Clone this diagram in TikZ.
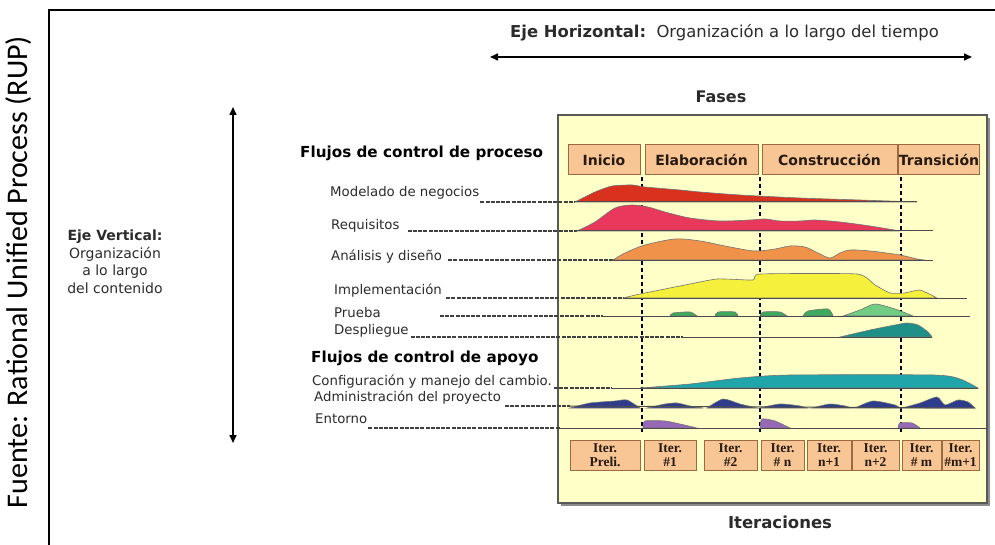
\documentclass[tikz,border=0pt]{standalone}
\usepackage{fontspec}
\setmainfont{DejaVu Sans}
\newfontfamily\srcfont{Carlito}
\newfontfamily\iterfont{Liberation Serif}
\usetikzlibrary{arrows.meta}
\definecolor{panelfill}{HTML}{FFFFC8}
\definecolor{boxfill}{HTML}{F8C594}
\definecolor{boxline}{HTML}{9A6A40}
\definecolor{txt}{HTML}{2B2B2B}
\definecolor{cModel}{HTML}{D8321E}
\definecolor{cReq}{HTML}{E8385C}
\definecolor{cAna}{HTML}{F0924A}
\definecolor{cImp}{HTML}{F5F03C}
\definecolor{cPru}{HTML}{3DAA5E}
\definecolor{cDes}{HTML}{1E9088}
\definecolor{cConf}{HTML}{1FA5AA}
\definecolor{cAdm}{HTML}{2E3C8E}
\definecolor{cEnt}{HTML}{9868B8}
\begin{document}
\begin{tikzpicture}[x=1pt,y=-1pt,
 lbl/.style={anchor=west,inner sep=0pt,text=txt,font=\fontsize{13.3}{15}\selectfont},
 ttl/.style={anchor=west,inner sep=0pt,text=black,font=\bfseries\fontsize{15.2}{17}\selectfont},
 phasebox/.style={draw=boxline,fill=boxfill,line width=1pt,inner sep=0pt,minimum height=30pt,
   font=\bfseries\fontsize{14}{16}\selectfont,text=black!80!brown},
 iterbox/.style={draw=boxline,fill=boxfill,line width=1pt,inner sep=0pt,minimum height=30pt,
   align=center,font=\iterfont\bfseries\fontsize{13.5}{14.5}\selectfont,text=black!80!brown},
 leader/.style={draw=black!75,line width=1.1pt,dash pattern=on 4pt off 1.2pt},
 baseln/.style={draw=black!70,line width=1pt},
 hump/.style={draw=black!55,line width=0.6pt},
 phaseline/.style={draw=black,line width=1.6pt,dash pattern=on 4pt off 3pt},
 axisarrow/.style={draw=black,line width=1.6pt,{Triangle[length=8pt,width=7pt]}-{Triangle[length=8pt,width=7pt]}},
]
\useasboundingbox (0,0) rectangle (995,545);
% outer frame
\draw[line width=1.2pt] (49,545) -- (49,10) -- (995,10);
\node[rotate=90,inner sep=0pt,font=\srcfont\fontsize{30}{32}\selectfont] (src) at (19,272) {Fuente: Rational Unified Process (RUP)};

% horizontal axis
\node[anchor=west,inner sep=0pt,font=\fontsize{16.4}{18}\selectfont,text=txt] (ejeH) at (510,33)
  {\textbf{Eje Horizontal:}\ \ Organización a lo largo del tiempo};
\coordinate (hL) at (490,57);
\coordinate (hR) at (972,57);
\draw[axisarrow] (hL) -- (hR);

% vertical axis
\coordinate (vT) at (233,107);
\coordinate (vB) at (233,443);
\draw[axisarrow] (vT) -- (vB);
\node[align=center,inner sep=0pt,font=\fontsize{14}{17.5}\selectfont,text=txt] (ejeV) at (115,262)
  {\textbf{Eje Vertical:}\\Organización\\a lo largo\\del contenido};

% panel
\fill[black!45] (561,118) rectangle (990,506);
\draw[fill=panelfill,draw=black!65,line width=1.5pt] (558,115) rectangle (987,503);
\node[font=\bfseries\fontsize{16}{18}\selectfont,text=txt] (fases) at (721,97) {Fases};
\node[font=\bfseries\fontsize{16.5}{18}\selectfont,text=txt] (iters) at (780,522) {Iteraciones};

% phases
\node[phasebox,minimum width=72pt] (pIni) at (604,160) {Inicio};
\node[phasebox,minimum width=113pt] (pEla) at (701.5,160) {Elaboración};
\node[phasebox,minimum width=135pt] (pCon) at (829.5,160) {Construcción};
\node[phasebox,minimum width=78pt] (pTra) at (939,160) {Transición};

% dashed phase boundaries
\draw[phaseline] (642,177) -- (642,432);
\draw[phaseline] (760,177) -- (760,432);
\draw[phaseline] (901,177) -- (901,432);

% iterations
\node[iterbox,minimum width=70pt] (i0) at (605,455) {Iter.\\Preli.};
\node[iterbox,minimum width=52pt] (i1) at (670,455) {Iter.\\\#1};
\node[iterbox,minimum width=53pt] (i2) at (730.5,455) {Iter.\\\#2};
\node[iterbox,minimum width=43pt] (i3) at (782.5,455) {Iter.\\\# n};
\node[iterbox,minimum width=44pt] (i4) at (829,455) {Iter.\\n+1};
\node[iterbox,minimum width=47pt] (i5) at (875.5,455) {Iter.\\n+2};
\node[iterbox,minimum width=39pt] (i6) at (921.5,455) {Iter.\\\# m};
\node[iterbox,minimum width=37pt] (i7) at (960.5,455) {Iter.\\\#m+1};

% labels
\node[ttl] (fProc) at (300,153) {Flujos de control de proceso};
\node[lbl] (lM) at (330,193) {Modelado de negocios};
\node[lbl] (lR) at (331,226) {Requisitos};
\node[lbl] (lA) at (331,257) {Análisis y diseño};
\node[lbl] (lI) at (334,291) {Implementación};
\node[lbl] (lP) at (334,313) {Prueba};
\node[lbl] (lD) at (334,331) {Despliegue};
\node[ttl] (fApo) at (311,358) {Flujos de control de apoyo};
\node[lbl] (lC) at (312,382) {Configuración y manejo del cambio.};
\node[lbl] (lAd) at (314,398) {Administración del proyecto};
\node[lbl] (lE) at (315,419) {Entorno};

% hump start coordinates
\coordinate (mS) at (575,202); \coordinate (mE) at (917,202);
\coordinate (rS) at (577,231); \coordinate (rE) at (933,231);
\coordinate (aS) at (613,260); \coordinate (aE) at (933,260);
\coordinate (imS) at (623,298); \coordinate (imE) at (967,298);
\coordinate (pS) at (603,316); \coordinate (pE) at (970,316);
\coordinate (dS) at (683,337); \coordinate (dE) at (932,337);
\coordinate (cS) at (612,388); \coordinate (cE) at (978,388);
\coordinate (adS) at (570,406); \coordinate (adE) at (975,408);
\coordinate (eS) at (560,428); \coordinate (eE) at (987,428);

% leaders
\draw[leader] ([xshift=1pt]lM.east |- mS) -- (mS);
\draw[leader] ([xshift=8pt]lR.east |- rS) -- (rS);
\draw[leader] ([xshift=6pt]lA.east |- aS) -- (aS);
\draw[leader] ([xshift=4pt]lI.east |- imS) -- (imS);
\draw[leader] (440,316) -- (pS);
\draw[leader] ([xshift=2pt]lD.east |- dS) -- (dS);
\draw[leader] ([xshift=2pt]lC.east |- cS) -- (cS);
\draw[leader] ([xshift=4pt]lAd.east |- adS) -- (adS);
\draw[leader] ([xshift=1pt]lE.east |- eS) -- (eS);

% Modelado de negocios
\filldraw[hump,fill=cModel] plot[smooth,tension=0.4] coordinates {(575,202) (595,192) (612,186) (632,185) (645,187) (680,190) (700,192) (740,195) (800,198) (860,200) (917,202)} -- cycle;
\draw[baseln] (mS) -- (mE);
% Requisitos
\filldraw[hump,fill=cReq] plot[smooth,tension=0.5] coordinates {(577,231) (595,222) (615,208) (632,205) (648,207) (665,212) (690,218) (720,221) (750,220) (765,219) (780,221) (800,221) (815,220) (840,222) (870,226) (900,231)} -- cycle;
\draw[baseln] (rS) -- (rE);
% Analisis
\filldraw[hump,fill=cAna] plot[smooth,tension=0.5] coordinates {(613,260) (625,253) (645,245) (675,239) (700,241) (730,247) (755,251) (775,249) (790,246) (805,247) (818,253) (830,258) (840,253) (850,250) (870,251) (900,255) (917,259) (925,260)} -- cycle;
\draw[baseln] (aS) -- (aE);
% Implementacion
\filldraw[hump,fill=cImp] plot[smooth,tension=0.3] coordinates {(623,298) (640,294) (680,286) (717,279) (753,280) (760,274) (857,274) (875,285) (890,293) (905,293) (920,290) (937,298)} -- cycle;
\draw[baseln] (imS) -- (imE);
% Prueba
\filldraw[hump,fill=cPru] plot[smooth,tension=0.4] coordinates {(670,316) (673,313) (690,312) (697,316)} -- cycle;
\filldraw[hump,fill=cPru] plot[smooth,tension=0.4] coordinates {(715,316) (718,312) (735,312) (738,316)} -- cycle;
\filldraw[hump,fill=cPru] plot[smooth,tension=0.4] coordinates {(760,316) (763,312) (780,312) (787,316)} -- cycle;
\filldraw[hump,fill=cPru] plot[smooth,tension=0.4] coordinates {(803,316) (808,311) (828,309) (833,316)} -- cycle;
\filldraw[hump,fill=cPru!85!green!70!white] plot[smooth,tension=0.4] coordinates {(843,316) (860,310) (875,304) (895,309) (913,316)} -- cycle;
\draw[baseln] (pS) -- (pE);
% Despliegue
\filldraw[hump,fill=cDes] plot[smooth,tension=0.4] coordinates {(840,337) (870,330) (895,325) (907,323) (918,325) (928,332) (932,337)} -- cycle;
\draw[baseln] (dS) -- (dE);
% Configuracion
\filldraw[hump,fill=cConf] plot[smooth,tension=0.4] coordinates {(640,388) (690,384) (740,378) (790,375) (933,375) (960,379) (978,388)} -- cycle;
\draw[baseln] (cS) -- (cE);
% Administracion
\filldraw[hump,fill=cAdm] plot[smooth,tension=0.4] coordinates {(570,408) (590,403) (615,401) (627,400) (640,408)} -- cycle;
\filldraw[hump,fill=cAdm] plot[smooth,tension=0.4] coordinates {(647,408) (665,404) (677,403) (690,406) (703,408)} -- cycle;
\filldraw[hump,fill=cAdm] plot[smooth,tension=0.4] coordinates {(707,408) (723,399) (740,404) (757,408)} -- cycle;
\filldraw[hump,fill=cAdm] plot[smooth,tension=0.4] coordinates {(760,408) (780,404) (800,406) (807,408)} -- cycle;
\filldraw[hump,fill=cAdm] plot[smooth,tension=0.4] coordinates {(812,408) (830,404) (845,406) (852,408)} -- cycle;
\filldraw[hump,fill=cAdm] plot[smooth,tension=0.4] coordinates {(855,408) (873,401) (895,405) (900,408)} -- cycle;
\filldraw[hump,fill=cAdm] plot[smooth,tension=0.4] coordinates {(902,408) (920,403) (937,397) (945,405) (958,400) (968,402) (975,408)} -- cycle;
\draw[baseln] (adS) -- (adE);
% Entorno
\filldraw[hump,fill=cEnt] plot[smooth,tension=0.4] coordinates {(643,428) (645,421) (665,421) (680,424) (697,428)} -- cycle;
\filldraw[hump,fill=cEnt] plot[smooth,tension=0.4] coordinates {(760,428) (762,419) (775,421) (790,428)} -- cycle;
\filldraw[hump,fill=cEnt] plot[smooth,tension=0.4] coordinates {(898,428) (900,423) (912,423) (920,428)} -- cycle;
\draw[baseln] (eS) -- (eE);
\end{tikzpicture}
\end{document}
